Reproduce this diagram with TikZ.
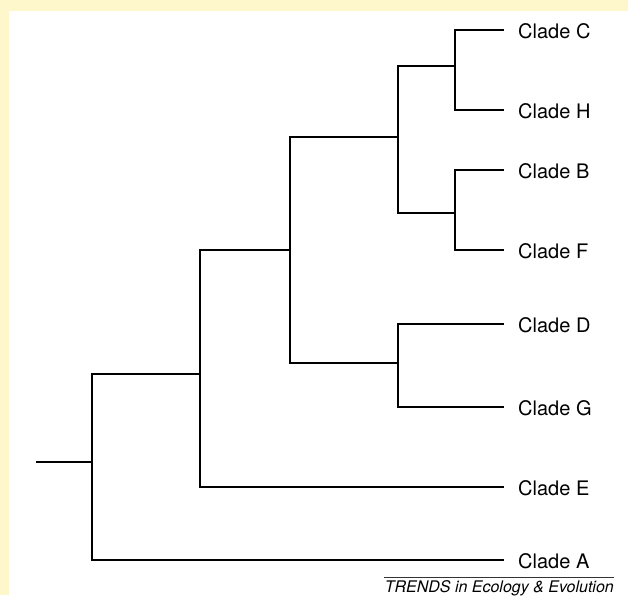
\documentclass[tikz,border=0pt]{standalone}
\usepackage{fontspec}
\setmainfont{TeX Gyre Heros}
\definecolor{bgyellow}{RGB}{253,247,203}
\begin{document}
\begin{tikzpicture}[x=1pt,y=-1pt,
  branch/.style={line width=2.4pt,line join=miter,line cap=butt,black},
  leaflabel/.style={anchor=west,inner sep=0pt,font=\fontsize{20}{24}\selectfont},
  creditlabel/.style={anchor=base east,inner sep=0pt,font=\fontsize{16}{19}\selectfont\itshape}]
\useasboundingbox (0,0) rectangle (628,595);
\fill[bgyellow] (0,0) rectangle (628,595);
\fill[white] (9,11) rectangle (628,595);
% leaves (tips)
\coordinate (C) at (504,30);
\coordinate (H) at (504,110);
\coordinate (B) at (504,170);
\coordinate (F) at (504,250);
\coordinate (D) at (504,324);
\coordinate (G) at (504,407);
\coordinate (E) at (504,487);
\coordinate (A) at (504,560);
% internal nodes
\coordinate (n1) at (455,66);
\coordinate (n2) at (455,213);
\coordinate (n3) at (398,137);
\coordinate (n4) at (398,363);
\coordinate (n5) at (290,250);
\coordinate (n6) at (200,374);
\coordinate (root) at (92,462);
\coordinate (stub) at (36,462);
% branches
\draw[branch] (stub) -- (root);
\draw[branch] (root) |- (n6);
\draw[branch] (root) |- (A);
\draw[branch] (n6) |- (n5);
\draw[branch] (n6) |- (E);
\draw[branch] (n5) |- (n3);
\draw[branch] (n5) |- (n4);
\draw[branch] (n3) |- (n1);
\draw[branch] (n3) |- (n2);
\draw[branch] (n1) |- (C);
\draw[branch] (n1) |- (H);
\draw[branch] (n2) |- (B);
\draw[branch] (n2) |- (F);
\draw[branch] (n4) |- (D);
\draw[branch] (n4) |- (G);
% labels
\node[leaflabel] (lC) at (518,31) {Clade C};
\node[leaflabel] (lH) at (518,111) {Clade H};
\node[leaflabel] (lB) at (518,171) {Clade B};
\node[leaflabel] (lF) at (518,251) {Clade F};
\node[leaflabel] (lD) at (518,325) {Clade D};
\node[leaflabel] (lG) at (518,408) {Clade G};
\node[leaflabel] (lE) at (518,488) {Clade E};
\node[leaflabel] (lA) at (518,561) {Clade A};
% credit
\coordinate (r1) at (384,577.5);
\coordinate (r2) at (614,577.5);
\draw[line width=0.8pt,black!80] (r1) -- (r2);
\node[creditlabel] (credit) at (614,592.5) {TRENDS in Ecology \& Evolution};
\end{tikzpicture}
\end{document}
